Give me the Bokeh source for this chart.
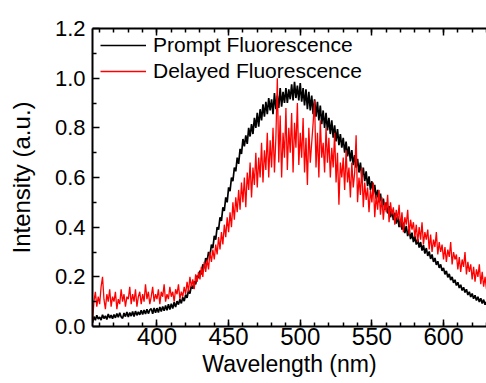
from bokeh.plotting import figure
from bokeh.models import (ColumnDataSource, LinearAxis, SingleIntervalTicker, FixedTicker, Legend,
                          LegendItem, Range1d, PrintfTickFormatter, CustomJSTickFormatter)
from bokeh.embed import file_html
from bokeh.resources import INLINE

# Wavelength grid (nm), 1 nm steps
wavelength = list(range(355, 631))

prompt_fl = [
    0.015, 0.04, 0.025, 0.045, 0.03,
    0.038, 0.026, 0.047, 0.032, 0.043, 0.028, 0.05, 0.034, 0.046, 0.031,
    0.048, 0.035, 0.052, 0.037, 0.055, 0.039, 0.033, 0.054, 0.04, 0.058,
    0.038, 0.056, 0.042, 0.06, 0.04, 0.062, 0.045, 0.059, 0.047, 0.065,
    0.048, 0.066, 0.05, 0.069, 0.052, 0.067, 0.072, 0.051, 0.075, 0.055,
    0.074, 0.056, 0.079, 0.06, 0.081, 0.063, 0.085, 0.065, 0.09, 0.068,
    0.092, 0.072, 0.098, 0.078, 0.102, 0.088, 0.11, 0.093, 0.118, 0.102,
    0.128, 0.115, 0.145, 0.132, 0.165, 0.152, 0.182, 0.17, 0.205, 0.195,
    0.225, 0.21, 0.25, 0.235, 0.275, 0.262, 0.3, 0.285, 0.33, 0.315,
    0.365, 0.35, 0.4, 0.39, 0.44, 0.425, 0.48, 0.465, 0.52, 0.5,
    0.56, 0.545, 0.6, 0.585, 0.64, 0.625, 0.68, 0.655, 0.715, 0.695,
    0.755, 0.725, 0.77, 0.735, 0.8, 0.765, 0.815, 0.775, 0.84, 0.8,
    0.86, 0.805, 0.875, 0.83, 0.895, 0.845, 0.905, 0.855, 0.92, 0.87,
    0.915, 0.855, 0.94, 0.875, 0.93, 0.88, 0.96, 0.885, 0.945, 0.9,
    0.96, 0.9, 0.955, 0.915, 0.975, 0.91, 0.985, 0.92, 0.97, 0.91,
    0.98, 0.905, 0.96, 0.89, 0.955, 0.875, 0.945, 0.87, 0.93, 0.855,
    0.915, 0.845, 0.905, 0.83, 0.89, 0.815, 0.87, 0.8, 0.86, 0.79,
    0.84, 0.775, 0.83, 0.76, 0.81, 0.745, 0.795, 0.73, 0.775, 0.72,
    0.76, 0.7, 0.745, 0.685, 0.725, 0.665, 0.71, 0.65, 0.69, 0.64,
    0.675, 0.62, 0.66, 0.6, 0.64, 0.585, 0.625, 0.565, 0.605, 0.55,
    0.585, 0.535, 0.57, 0.515, 0.55, 0.5, 0.535, 0.485, 0.515, 0.47,
    0.5, 0.455, 0.485, 0.44, 0.47, 0.428, 0.458, 0.414, 0.445, 0.4,
    0.432, 0.39, 0.418, 0.376, 0.405, 0.364, 0.392, 0.352, 0.378, 0.34,
    0.365, 0.33, 0.352, 0.318, 0.34, 0.306, 0.328, 0.294, 0.316, 0.284,
    0.302, 0.272, 0.29, 0.26, 0.276, 0.248, 0.263, 0.236, 0.25, 0.224,
    0.236, 0.21, 0.224, 0.198, 0.212, 0.187, 0.2, 0.176, 0.188, 0.165,
    0.178, 0.155, 0.168, 0.145, 0.158, 0.137, 0.15, 0.127, 0.14, 0.119,
    0.133, 0.112, 0.126, 0.105, 0.12, 0.099, 0.114, 0.093, 0.108, 0.088,
    0.1,
]

delayed_fl = [
    0.02, 0.1, 0.14, 0.08, 0.12,
    0.09, 0.16, 0.2, 0.11, 0.07, 0.13, 0.1, 0.15, 0.08, 0.12,
    0.1, 0.14, 0.07, 0.11, 0.09, 0.15, 0.1, 0.13, 0.08, 0.12,
    0.11, 0.16, 0.09, 0.13, 0.1, 0.15, 0.08, 0.12, 0.14, 0.09,
    0.13, 0.1, 0.17, 0.11, 0.14, 0.09, 0.12, 0.16, 0.1, 0.13,
    0.11, 0.15, 0.09, 0.14, 0.12, 0.17, 0.1, 0.13, 0.11, 0.16,
    0.12, 0.14, 0.1, 0.15, 0.13, 0.17, 0.11, 0.14, 0.12, 0.16,
    0.13, 0.18, 0.14, 0.2, 0.16, 0.19, 0.15, 0.21, 0.18, 0.22,
    0.19, 0.24, 0.2, 0.26, 0.22, 0.27, 0.23, 0.3, 0.26, 0.31,
    0.27, 0.33, 0.29, 0.36, 0.31, 0.38, 0.33, 0.41, 0.36, 0.44,
    0.38, 0.46, 0.4, 0.5, 0.43, 0.52, 0.46, 0.55, 0.47, 0.58,
    0.5, 0.6, 0.48, 0.62, 0.55, 0.66, 0.52, 0.64, 0.57, 0.7,
    0.56, 0.68, 0.6, 0.74, 0.58, 0.71, 0.63, 0.78, 0.6, 0.75,
    0.64, 0.8, 0.62, 0.76, 1.0, 0.66, 0.85, 0.6, 0.78, 0.68,
    0.88, 0.63, 0.8, 0.7, 0.86, 0.62, 0.82, 0.72, 0.9, 0.65,
    0.78, 0.68, 0.84, 0.62, 0.76, 0.57, 0.8, 0.66, 0.74, 0.82,
    0.91, 0.64, 0.78, 0.6, 0.83, 0.68, 0.74, 0.62, 0.8, 0.66,
    0.76, 0.6, 0.72, 0.64, 0.78, 0.58, 0.7, 0.49, 0.66, 0.6,
    0.68, 0.55, 0.71, 0.58, 0.64, 0.52, 0.66, 0.56, 0.62, 0.77,
    0.5, 0.6, 0.53, 0.64, 0.48, 0.58, 0.51, 0.56, 0.46, 0.55,
    0.5, 0.58, 0.44, 0.53, 0.47, 0.55, 0.45, 0.52, 0.43, 0.5,
    0.46, 0.53, 0.42, 0.5, 0.45, 0.48, 0.41, 0.47, 0.43, 0.49,
    0.4, 0.46, 0.38, 0.44, 0.41, 0.47, 0.37, 0.43, 0.39, 0.42,
    0.36, 0.41, 0.34, 0.4, 0.35, 0.42, 0.33, 0.38, 0.35, 0.39,
    0.31, 0.37, 0.3, 0.35, 0.32, 0.38, 0.29, 0.34, 0.3, 0.33,
    0.27, 0.32, 0.26, 0.31, 0.28, 0.34, 0.25, 0.3, 0.27, 0.29,
    0.23, 0.28, 0.22, 0.27, 0.24, 0.3, 0.21, 0.26, 0.22, 0.25,
    0.19, 0.24, 0.18, 0.23, 0.2, 0.25, 0.17, 0.22, 0.16, 0.2,
    0.15,
]

series_names = ["Prompt Fluorescence", "Delayed Fluorescence"]
x_label = "Wavelength (nm)"
y_label = "Intensity (a.u.)"
y_ticks = [0.0, 0.2, 0.4, 0.6, 0.8, 1.0, 1.2]
y_minor_ticks = [0.1, 0.3, 0.5, 0.7, 0.9, 1.1]

assert len(wavelength) == len(prompt_fl) == len(delayed_fl)

FONT = "Liberation Sans"

p = figure(width=486, height=383, output_backend="svg", toolbar_location=None,
           x_range=Range1d(355, 630), y_range=Range1d(0, 1.2),
           min_border_left=92, min_border_right=0, min_border_top=28, min_border_bottom=57)
p.outline_line_color = None
p.xgrid.visible = False
p.ygrid.visible = False
p.background_fill_color = "white"

src = ColumnDataSource(dict(x=wavelength, prompt=prompt_fl, delayed=delayed_fl))
r1 = p.line("x", "prompt", source=src, line_color="black", line_width=1.7)
r2 = p.line("x", "delayed", source=src, line_color="#ff0000", line_width=1.3)

def style_axis(ax, label_size):
    ax.axis_line_width = 2
    ax.axis_line_color = "black"
    ax.major_tick_in = 7
    ax.major_tick_out = 0
    ax.minor_tick_in = 4
    ax.minor_tick_out = 0
    ax.major_tick_line_width = 1.5
    ax.minor_tick_line_width = 1.5
    ax.major_tick_line_color = "black"
    ax.minor_tick_line_color = "black"
    ax.major_label_text_font = FONT
    ax.major_label_text_font_size = label_size
    ax.major_label_text_color = "black"
    ax.axis_label_text_font = FONT
    ax.axis_label_text_font_style = "normal"
    ax.axis_label_text_color = "black"

xax = p.xaxis[0]
xax.ticker = SingleIntervalTicker(interval=50, num_minor_ticks=5)
style_axis(xax, "24px")
xax.axis_label = x_label
xax.axis_label_text_font_size = "23px"
xax.major_label_standoff = 1
xax.axis_label_standoff = 3

yax = p.yaxis[0]
yax.ticker = FixedTicker(ticks=y_ticks, minor_ticks=y_minor_ticks)
yax.formatter = PrintfTickFormatter(format="%.1f")
style_axis(yax, "22px")
yax.axis_label = y_label
yax.axis_label_text_font_size = "24px"
yax.major_label_standoff = 7
yax.axis_label_standoff = 17

top = LinearAxis(ticker=SingleIntervalTicker(interval=50, num_minor_ticks=5),
                 formatter=CustomJSTickFormatter(code="return ''"))
style_axis(top, "10px")
top.major_label_standoff = 0
p.add_layout(top, "above")

legend = Legend(items=[LegendItem(label=series_names[0], renderers=[r1]),
                       LegendItem(label=series_names[1], renderers=[r2])],
                location=(8, 243), margin=0, padding=0, spacing=2,
                glyph_width=46, glyph_height=24, label_height=24, label_standoff=7,
                label_text_font=FONT, label_text_font_size="21px", label_text_color="black",
                background_fill_alpha=0, border_line_color=None)
p.add_layout(legend, "center")

open("out.html", "w").write(file_html(p, INLINE))
